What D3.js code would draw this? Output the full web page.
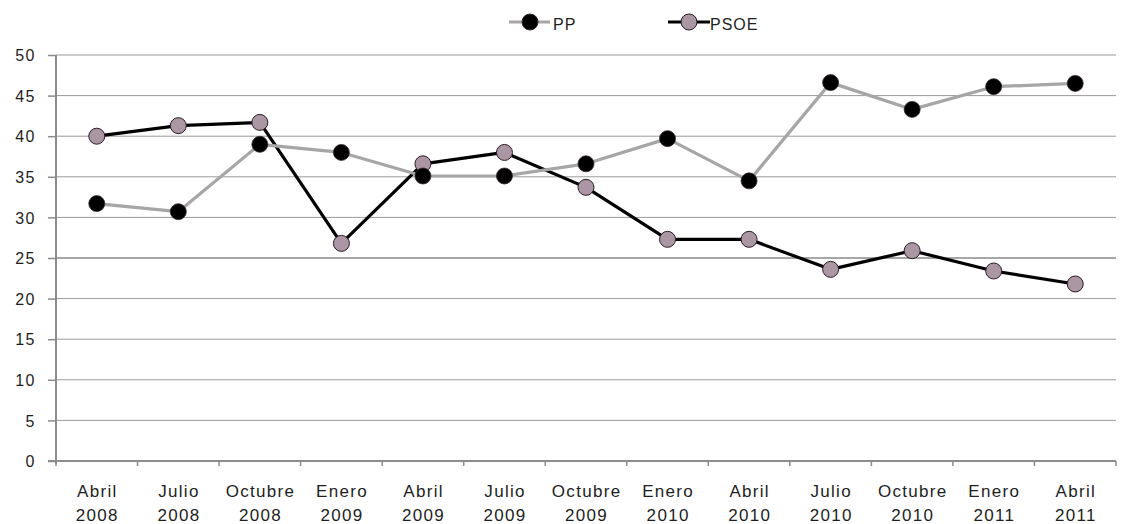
<!DOCTYPE html>
<html><head><meta charset="utf-8">
<script src="https://cdn.jsdelivr.net/npm/d3@7"></script>
<style>
body{margin:0;background:#fff;}
text{font-family:"Liberation Sans",Arial,sans-serif;fill:#1e1e1e;}
</style></head>
<body><svg id="c" width="1125" height="524"></svg>
<script>
const categories = ["Abril 2008","Julio 2008","Octubre 2008","Enero 2009","Abril 2009","Julio 2009","Octubre 2009","Enero 2010","Abril 2010","Julio 2010","Octubre 2010","Enero 2011","Abril 2011"];
const ppValues = [31.7,30.7,39.0,38.0,35.1,35.1,36.6,39.7,34.5,46.6,43.3,46.1,46.5];
const psoeValues = [40.0,41.3,41.7,26.8,36.6,38.0,33.7,27.3,27.3,23.6,25.9,23.4,21.8];
const yTicks = [0,5,10,15,20,25,30,35,40,45,50];
const seriesNames = ["PP","PSOE"];

(function(){
const svg = d3.select("#c");
const mL = 56, mR = 1116, mT = 55, mB = 461;
const x = d3.scaleBand().domain(categories).range([mL, mR]);
const y = d3.scaleLinear().domain([0,50]).range([mB, mT]);

// gridlines
svg.append("g").selectAll("line").data(yTicks.filter(d=>d>0)).join("line")
  .attr("x1", mL).attr("x2", mR)
  .attr("y1", d=>y(d)).attr("y2", d=>y(d))
  .attr("stroke", d=> d===25 ? "#8a8a8a" : "#9a9a9a")
  .attr("stroke-width", d=> d===25 ? 1.6 : 1);

// y axis
const yAxis = svg.append("g").attr("transform", `translate(${mL},0)`)
  .call(d3.axisLeft(y).tickValues(yTicks).tickSize(8).tickPadding(12));
yAxis.select(".domain").attr("stroke","#8c8c8c").attr("stroke-width",2).attr("d", `M0,${mT}V${mB+3}`);
yAxis.selectAll(".tick line").attr("stroke","#8c8c8c").attr("stroke-width",1.5);
yAxis.selectAll(".tick text").style("font-size","16px").style("letter-spacing","1.5px")
  .attr("fill","#1e1e1e").attr("dy","0.36em");

// x axis
const xAxis = svg.append("g").attr("transform", `translate(0,${mB})`);
xAxis.append("line").attr("x1", mL-8).attr("x2", mR).attr("y1",0).attr("y2",0)
  .attr("stroke","#8c8c8c").attr("stroke-width",2);
const bounds = categories.map(c=>x(c)).concat([x(categories[categories.length-1])+x.bandwidth()]);
xAxis.selectAll("line.t").data(bounds).join("line").attr("class","t")
  .attr("x1", d=>d).attr("x2", d=>d).attr("y1",0).attr("y2",5)
  .attr("stroke","#8c8c8c").attr("stroke-width",1.5);
const lab = xAxis.selectAll("text").data(categories).join("text")
  .attr("text-anchor","middle").style("font-size","17px").style("letter-spacing","1.3px")
  .attr("transform", d=>`translate(${x(d)+x.bandwidth()/2+0.6},0)`);
lab.append("tspan").attr("x",0).attr("y",36).text(d=>d.split(" ")[0]);
lab.append("tspan").attr("x",0).attr("y",60).text(d=>d.split(" ")[1]);

const cx = d => x(d)+x.bandwidth()/2;
const line = d3.line().x((d,i)=>cx(categories[i])).y(d=>y(d));

svg.append("path").datum(psoeValues).attr("d", line).attr("fill","none")
  .attr("stroke","#000").attr("stroke-width",3.2).attr("stroke-linejoin","round");
svg.append("path").datum(ppValues).attr("d", line).attr("fill","none")
  .attr("stroke","#a6a6a6").attr("stroke-width",3.2).attr("stroke-linejoin","round");

svg.append("g").selectAll("circle").data(psoeValues).join("circle")
  .attr("cx",(d,i)=>cx(categories[i])).attr("cy",d=>y(d)).attr("r",8)
  .attr("fill","#ab97a3").attr("stroke","#2a1a22").attr("stroke-width",1);
svg.append("g").selectAll("circle").data(ppValues).join("circle")
  .attr("cx",(d,i)=>cx(categories[i])).attr("cy",d=>y(d)).attr("r",8)
  .attr("fill","#000").attr("stroke","#3a2a30").attr("stroke-width",0.8);

// legend
const leg = svg.append("g");
const legItems = [
  {name:seriesNames[0], x1:509, x2:550, cx:530, lc:"#a6a6a6", fill:"#000", stroke:"#3a2a30", tx:553},
  {name:seriesNames[1], x1:668, x2:710, cx:689, lc:"#000", fill:"#ab97a3", stroke:"#2a1a22", tx:710}
];
legItems.forEach(it=>{
  leg.append("line").attr("x1",it.x1).attr("x2",it.x2).attr("y1",22).attr("y2",22)
    .attr("stroke",it.lc).attr("stroke-width",3);
  leg.append("circle").attr("cx",it.cx).attr("cy",22).attr("r",8)
    .attr("fill",it.fill).attr("stroke",it.stroke).attr("stroke-width",1);
  leg.append("text").attr("x",it.tx).attr("y",30).style("font-size","16px").style("letter-spacing","1px").text(it.name);
});
})();
</script></body></html>
